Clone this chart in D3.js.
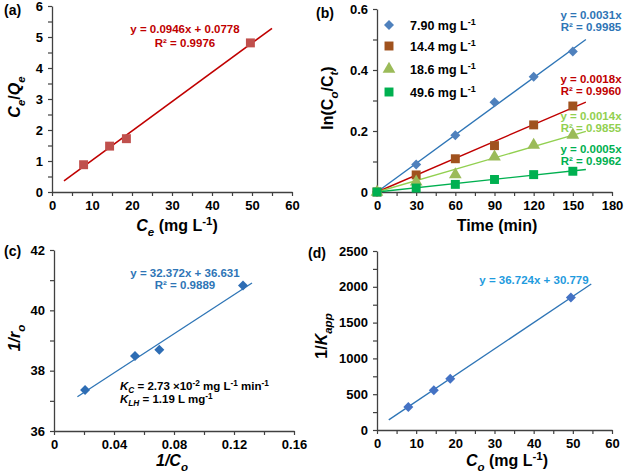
<!DOCTYPE html>
<html>
<head>
<meta charset="utf-8">
<script src="https://cdn.jsdelivr.net/npm/d3@7"></script>
<style>
  body { margin: 0; background: #fff; }
  text { font-family: Arial, "Liberation Sans", sans-serif; font-weight: bold; }
</style>
</head>
<body>
<div id="chart"></div>
<script>
// panel (a) - Langmuir isotherm
var aCe = [7.9, 14.4, 18.6, 49.6];
var aCeQe = [0.88, 1.48, 1.72, 4.81];
var aSlope = 0.0946, aIntercept = 0.0778;
var aFitX = [3, 55];

// panel (b) - kinetics
var bTime = [0, 30, 60, 90, 120, 150];
var bNames = ["7.90", "14.4", "18.6", "49.6"];
var bSeries = [
  [0, 0.090, 0.186, 0.294, 0.378, 0.461],
  [0, 0.056, 0.109, 0.152, 0.220, 0.282],
  [0, 0.033, 0.057, 0.115, 0.154, 0.187],
  [0, 0.013, 0.025, 0.041, 0.057, 0.068]
];
var bFitX = [0, 160];
var bFitEnd = [0.50, 0.295, 0.199, 0.074];
var bEq = ["y = 0.0031x", "y = 0.0018x", "y = 0.0014x", "y = 0.0005x"];
var bR2 = ["R² = 0.9985", "R² = 0.9960", "R² = 0.9855", "R² = 0.9962"];

// panel (c) - 1/r0 vs 1/C0
var cInvC = [0.0207, 0.054, 0.0702, 0.126];
var cInvR = [37.36, 38.49, 38.69, 40.82];
var cSlope = 32.372, cIntercept = 36.631;
var cFitX = [0.0156, 0.132];

// panel (d) - 1/Kapp vs C0
var dC0 = [8.0, 14.5, 18.7, 49.5];
var dInvK = [322, 556, 716, 1850];
var dSlope = 36.724, dIntercept = 30.779;
var dFitX = [3, 54.7];

var svg = d3.select("#chart").append("svg")
  .attr("width", 625).attr("height", 475);

var axisColor = "#404040";

// draws text made of parts: [string, style] where style is "", "i", "sub", "isub", "sup", "isup"
function richText(sel, parts, fs) {
  var cur = 0;
  parts.forEach(function(p) {
    var st = p[1] || "";
    var target = 0, size = fs;
    if (st.indexOf("sub") >= 0) { target = fs * 0.3; size = fs * 0.72; }
    if (st.indexOf("sup") >= 0) { target = -fs * 0.38; size = fs * 0.72; }
    var t = sel.append("tspan")
      .attr("dy", (target - cur) + "px")
      .style("font-size", size + "px")
      .text(p[0]);
    if (st.indexOf("i") === 0) t.style("font-style", "italic");
    cur = target;
  });
}

function labelFmt(labels) {
  return function(d) {
    var hit = labels.some(function(v) { return Math.abs(v - d) < 1e-9; });
    return hit ? String(+d.toFixed(6)) : "";
  };
}

function makePanel(p) {
  var g = svg.append("g");
  var x = d3.scaleLinear().domain(p.xDom).range([p.left, p.right]);
  var y = d3.scaleLinear().domain(p.yDom).range([p.bottom, p.top]);

  var xa = g.append("g")
    .attr("transform", "translate(0," + p.bottom + ")")
    .call(d3.axisBottom(x).tickValues(p.xTicks).tickFormat(labelFmt(p.xLabels))
      .tickSize(4).tickSizeOuter(0).tickPadding(5));
  var ya = g.append("g")
    .attr("transform", "translate(" + p.left + ",0)")
    .call(d3.axisLeft(y).tickValues(p.yTicks).tickFormat(labelFmt(p.yLabels))
      .tickSize(4).tickSizeOuter(0).tickPadding(5));
  [xa, ya].forEach(function(a) {
    a.select(".domain").attr("stroke", axisColor).attr("stroke-width", 1.3);
    a.selectAll(".tick line").attr("stroke", axisColor).attr("stroke-width", 1.2);
    a.selectAll(".tick text").attr("fill", "#000").style("font-size", "13px")
      .style("font-family", "Arial, 'Liberation Sans', sans-serif").style("font-weight", "bold");
  });
  return { g: g, x: x, y: y };
}

function range(a, b, s) {
  return d3.range(0, Math.round((b - a) / s) + 1).map(function(i) { return +(a + i * s).toFixed(6); });
}

var diamond = d3.symbol().type(d3.symbolSquare).size(50);
var square = d3.symbol().type(d3.symbolSquare).size(80);
var triangle = d3.symbol().type(d3.symbolTriangle).size(70);

function markers(P, xs, ys, sym, color, rot) {
  P.g.selectAll(null).data(xs).enter().append("path")
    .attr("d", sym)
    .attr("transform", function(d, i) {
      return "translate(" + P.x(d) + "," + P.y(ys[i]) + ")" + (rot ? " rotate(45)" : "");
    })
    .attr("fill", color);
}

function fitLine(P, xs, ys, color, w) {
  P.g.append("line")
    .attr("x1", P.x(xs[0])).attr("y1", P.y(ys[0]))
    .attr("x2", P.x(xs[1])).attr("y2", P.y(ys[1]))
    .attr("stroke", color).attr("stroke-width", w || 1.5);
}

function label(x, y, parts, fs, opts) {
  opts = opts || {};
  var t = svg.append("text")
    .attr("x", x).attr("y", y)
    .attr("text-anchor", opts.anchor || "middle")
    .attr("fill", opts.color || "#000")
    .style("font-size", fs + "px");
  if (opts.rotate) t.attr("transform", "rotate(-90," + x + "," + y + ")");
  richText(t, parts, fs);
  return t;
}

// ---------- (a) ----------
var A = makePanel({
  xDom: [0, 60], yDom: [0, 6], left: 52, right: 292, top: 6, bottom: 192,
  xTicks: range(0, 60, 5), xLabels: range(0, 60, 10),
  yTicks: range(0, 6, 0.5), yLabels: range(0, 6, 1)
});
fitLine(A, aFitX, aFitX.map(function(v) { return aSlope * v + aIntercept; }), "#C00000", 1.6);
markers(A, aCe, aCeQe, square, "#C0504D");
label(185, 33, [["y = 0.0946x + 0.0778"]], 11.5, { color: "#C00000" });
label(185, 47, [["R² = 0.9976"]], 11.5, { color: "#C00000" });
label(20, 97, [["C", "i"], ["e", "isub"], ["/"], ["Q", "i"], ["e", "isub"]], 16, { rotate: true });
label(177, 231, [["C", "i"], ["e", "isub"], [" (mg L"], ["-1", "sup"], [")"]], 16);
label(4, 15, [["(a)"]], 14, { anchor: "start" });

// ---------- (b) ----------
var B = makePanel({
  xDom: [0, 180], yDom: [0, 0.6], left: 377, right: 612, top: 9, bottom: 192,
  xTicks: range(0, 180, 15), xLabels: range(0, 180, 30),
  yTicks: range(0, 0.6, 0.1), yLabels: range(0, 0.6, 0.2)
});
var bMarkColor = ["#4F81BD", "#A0521E", "#9BBB59", "#00B050"];
var bLineColor = ["#2E75B6", "#C00000", "#92D050", "#00B050"];
var bSym = [diamond, square, triangle, square];
bSeries.forEach(function(s, i) {
  fitLine(B, bFitX, [0, bFitEnd[i]], bLineColor[i], 1.4);
});
bSeries.forEach(function(s, i) {
  markers(B, bTime, s, bSym[i], bMarkColor[i], i === 0);
});
var bEqY = [19, 83, 120, 153];
bEq.forEach(function(e, i) {
  label(591, bEqY[i], [[e]], 11.5, { color: bLineColor[i] });
  label(591, bEqY[i] + 12, [[bR2[i]]], 11.5, { color: bLineColor[i] });
});
// legend
var legY = [25, 46, 69, 92];
bNames.forEach(function(n, i) {
  svg.append("path").attr("d", bSym[i])
    .attr("transform", "translate(389," + legY[i] + ")" + (i === 0 ? " rotate(45)" : ""))
    .attr("fill", bMarkColor[i]);
  label(410, legY[i] + 4.5, [[n + " mg L"], ["-1", "sup"]], 12.5, { anchor: "start" });
});
label(333, 98, [["ln(C"], ["o", "isub"], ["/C"], ["t", "isub"], [")"]], 16, { rotate: true });
label(497, 231, [["Time (min)"]], 16);
label(316, 18, [["(b)"]], 14, { anchor: "start" });

// ---------- (c) ----------
var C = makePanel({
  xDom: [0, 0.16], yDom: [36, 42], left: 54, right: 294, top: 250, bottom: 431,
  xTicks: range(0, 0.16, 0.02), xLabels: range(0, 0.16, 0.04),
  yTicks: range(36, 42, 1), yLabels: range(36, 42, 2)
});
fitLine(C, cFitX, cFitX.map(function(v) { return cSlope * v + cIntercept; }), "#2E75B6", 1.3);
markers(C, cInvC, cInvR, diamond, "#2E6DB4", true);
label(185, 277, [["y = 32.372x + 36.631"]], 11.5, { color: "#2E75B6" });
label(185, 289, [["R² = 0.9889"]], 11.5, { color: "#2E75B6" });
label(120, 390, [["K", "i"], ["C", "isub"], [" = 2.73 \u00d710"], ["-2", "sup"], [" mg L"], ["-1", "sup"], [" min"], ["-1", "sup"]], 11.5, { anchor: "start" });
label(120, 403, [["K", "i"], ["LH", "isub"], [" = 1.19 L mg"], ["-1", "sup"]], 11.5, { anchor: "start" });
label(20, 338, [["1/r", "i"], ["o", "isub"]], 16, { rotate: true });
label(172, 466, [["1/C", "i"], ["o", "isub"]], 16);
label(4, 256, [["(c)"]], 14, { anchor: "start" });

// ---------- (d) ----------
var D = makePanel({
  xDom: [0, 60], yDom: [0, 2500], left: 377, right: 612, top: 251, bottom: 430,
  xTicks: range(0, 60, 5), xLabels: range(0, 60, 10),
  yTicks: range(0, 2500, 250), yLabels: range(0, 2500, 500)
});
fitLine(D, dFitX, dFitX.map(function(v) { return dSlope * v + dIntercept; }), "#2E75B6", 1.3);
markers(D, dC0, dInvK, diamond, "#4472C4", true);
label(534, 284, [["y = 36.724x + 30.779"]], 11.5, { color: "#1F9BDE" });
label(327, 336, [["1/"], ["K", "i"], ["app", "isub"]], 16, { rotate: true });
label(507, 466, [["C", "i"], ["o", "isub"], [" (mg L"], ["-1", "sup"], [")"]], 16);
label(308, 258, [["(d)"]], 14, { anchor: "start" });
</script>
</body>
</html>
